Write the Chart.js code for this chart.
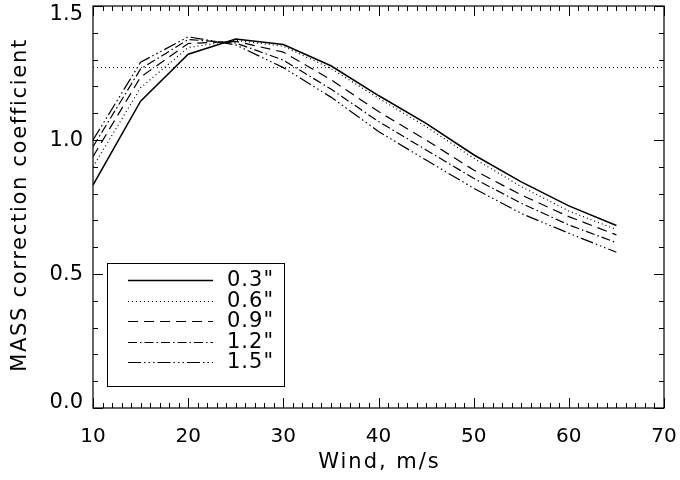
<!DOCTYPE html>
<html>
<head>
<meta charset="utf-8">
<script src="https://cdn.jsdelivr.net/npm/chart.js@4/dist/chart.umd.min.js"></script>
<style>
html,body{margin:0;padding:0;background:#fff;}
#wrap{width:680px;height:480px;position:relative;}
</style>
</head>
<body>
<div id="wrap"><canvas id="c" width="680" height="480"></canvas></div>
<script>
// ---- data ----
const windSpeeds = [10, 15, 20, 25, 30, 35, 40, 45, 50, 55, 60, 65];
const seeing03 = [0.832, 1.145, 1.320, 1.377, 1.356, 1.277, 1.166, 1.062, 0.945, 0.844, 0.754, 0.681];
const seeing06 = [0.900, 1.195, 1.345, 1.372, 1.350, 1.267, 1.156, 1.050, 0.932, 0.826, 0.735, 0.666];
const seeing09 = [0.938, 1.235, 1.360, 1.368, 1.328, 1.225, 1.106, 1.000, 0.888, 0.795, 0.714, 0.646];
const seeing12 = [0.975, 1.265, 1.375, 1.362, 1.298, 1.190, 1.069, 0.963, 0.857, 0.764, 0.683, 0.617];
const seeing15 = [1.000, 1.290, 1.385, 1.355, 1.270, 1.160, 1.032, 0.925, 0.820, 0.726, 0.652, 0.581];
const seriesLabels = ['0.3"', '0.6"', '0.9"', '1.2"', '1.5"'];
const refLineX = [10, 70];
const refLineY = [1.27, 1.27];
const xTickLabels = [10, 20, 30, 40, 50, 60, 70];
const yTickLabels = [0.0, 0.5, 1.0, 1.5];
const xTitle = 'Wind, m/s';
const yTitle = 'MASS correction coefficient';

const FONT = '"DejaVu Sans", sans-serif';
const dashes = [[], [1, 3], [10, 6], [9, 3, 1.5, 3], [13, 3, 1.5, 3, 1.5, 3, 1.5, 3]];
const widths = [1.5, 1.2, 1.2, 1.2, 1.2];
const seriesValues = [seeing03, seeing06, seeing09, seeing12, seeing15];

const datasets = seriesValues.map((vals, i) => ({
  label: seriesLabels[i],
  data: windSpeeds.map((w, j) => ({x: w, y: vals[j]})),
  borderColor: '#000',
  borderWidth: widths[i],
  borderDash: dashes[i],
  pointRadius: 0,
  fill: false,
  tension: 0
}));
datasets.push({
  label: 'ref',
  data: refLineX.map((x, j) => ({x: x, y: refLineY[j]})),
  borderColor: '#000',
  borderWidth: 1,
  borderDash: [1, 3],
  pointRadius: 0,
  fill: false
});

const framePlugin = {
  id: 'frame',
  afterDatasetsDraw(chart) {
    const ctx = chart.ctx, a = chart.chartArea;
    const xs = chart.scales.x, ys = chart.scales.y;
    ctx.save();
    ctx.strokeStyle = '#000';
    ctx.lineWidth = 1.2;
    ctx.strokeRect(a.left, a.top, a.right - a.left, a.bottom - a.top);
    ctx.lineWidth = 1;
    ctx.beginPath();
    for (let v = 10; v <= 70; v += 1) {
      const px = Math.round(xs.getPixelForValue(v)) + 0.5;
      const len = (v % 10 === 0) ? 10 : 5;
      ctx.moveTo(px, a.bottom); ctx.lineTo(px, a.bottom - len);
      ctx.moveTo(px, a.top); ctx.lineTo(px, a.top + len);
    }
    for (let k = 0; k <= 15; k++) {
      const v = k / 10;
      const py = Math.round(ys.getPixelForValue(v)) + 0.5;
      const len = (k % 5 === 0) ? 10 : 5;
      ctx.moveTo(a.left, py); ctx.lineTo(a.left + len, py);
      ctx.moveTo(a.right, py); ctx.lineTo(a.right - len, py);
    }
    ctx.stroke();

    // y tick labels (kept inside the frame's height like the original)
    ctx.fillStyle = '#000';
    ctx.font = '21px ' + FONT;
    ctx.textAlign = 'right';
    ctx.textBaseline = 'middle';
    yTickLabels.forEach(v => {
      let py = ys.getPixelForValue(v);
      py = Math.min(Math.max(py, a.top + 8), a.bottom - 6);
      ctx.fillText(v.toFixed(1), a.left - 10, py + 1);
    });

    // legend box
    const bx = a.left + 14, by = a.top + 257, bw = 177, bh = 123;
    ctx.fillStyle = '#fff';
    ctx.fillRect(bx, by, bw, bh);
    ctx.lineWidth = 1;
    ctx.strokeRect(bx + 0.5, by + 0.5, bw, bh);
    ctx.font = '21px ' + FONT;
    ctx.letterSpacing = '1px';
    ctx.textBaseline = 'middle';
    ctx.textAlign = 'left';
    ctx.fillStyle = '#000';
    for (let i = 0; i < seriesLabels.length; i++) {
      const yy = by + 17 + i * 20.5;
      ctx.beginPath();
      ctx.setLineDash(dashes[i]);
      ctx.lineWidth = widths[i];
      ctx.moveTo(bx + 21, Math.round(yy) + 0.5);
      ctx.lineTo(bx + 106, Math.round(yy) + 0.5);
      ctx.stroke();
      ctx.setLineDash([]);
      ctx.fillText(seriesLabels[i], bx + 120, yy + 1);
    }

    // axis titles
    ctx.font = '21px ' + FONT;
    ctx.textAlign = 'center';
    ctx.letterSpacing = '2px';
    ctx.fillText(xTitle, (a.left + a.right) / 2 + 1, 463);
    ctx.save();
    ctx.translate(21, (a.top + a.bottom) / 2 - 2);
    ctx.rotate(-Math.PI / 2);
    ctx.letterSpacing = '1.7px';
    ctx.fillText(yTitle, 0, 0);
    ctx.restore();
    ctx.restore();
  }
};

new Chart(document.getElementById('c'), {
  type: 'line',
  data: {datasets: datasets},
  options: {
    responsive: false,
    animation: false,
    devicePixelRatio: 1,
    layout: {padding: {top: 6, right: 16, left: 0, bottom: 0}},
    plugins: {legend: {display: false}, tooltip: {enabled: false}},
    scales: {
      x: {
        type: 'linear', min: 10, max: 70,
        afterBuildTicks: s => { s.ticks = xTickLabels.map(v => ({value: v})); },
        afterFit: s => { s.height = 72; s.paddingLeft = 0; s.paddingRight = 0; },
        grid: {display: false, drawTicks: false},
        border: {display: false},
        ticks: {color: '#000', font: {family: FONT, size: 20}, padding: 17, maxRotation: 0,
                callback: v => String(v)},
        title: {display: false}
      },
      y: {
        min: 0, max: 1.5,
        afterBuildTicks: s => { s.ticks = yTickLabels.map(v => ({value: v})); },
        afterFit: s => { s.width = 93; s.paddingTop = 0; s.paddingBottom = 0; },
        grid: {display: false, drawTicks: false},
        border: {display: false},
        ticks: {display: false},
        title: {display: false}
      }
    }
  },
  plugins: [framePlugin]
});
</script>
</body>
</html>
